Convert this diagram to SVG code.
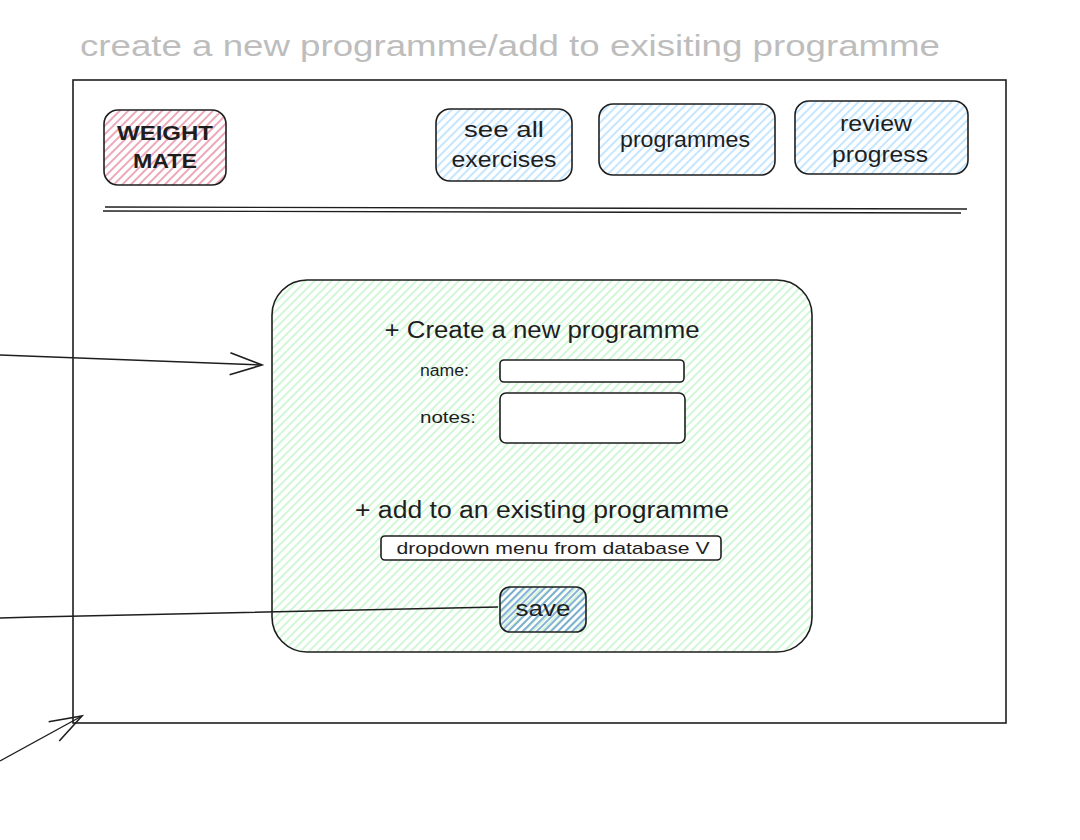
<svg xmlns="http://www.w3.org/2000/svg" width="1080" height="840" viewBox="0 0 1080 840">
<defs>
<pattern id="hPink" patternUnits="userSpaceOnUse" width="6" height="6" patternTransform="rotate(45)"><line x1="1" y1="0" x2="1" y2="6" stroke="#e07a96" stroke-width="1.3"/></pattern>
<pattern id="hBlue" patternUnits="userSpaceOnUse" width="6" height="6" patternTransform="rotate(45)"><line x1="1" y1="0" x2="1" y2="6" stroke="#a5d8ff" stroke-width="1.3"/></pattern>
<pattern id="hGreen" patternUnits="userSpaceOnUse" width="6" height="6" patternTransform="rotate(45)"><line x1="1" y1="0" x2="1" y2="6" stroke="#b2f2bb" stroke-width="1.2"/></pattern>
<pattern id="hSave" patternUnits="userSpaceOnUse" width="5" height="5" patternTransform="rotate(45)"><line x1="1" y1="0" x2="1" y2="5" stroke="#4a86c5" stroke-width="1.3"/></pattern>
<marker id="openArrow" markerWidth="40" markerHeight="30" refX="36" refY="15" orient="auto" markerUnits="userSpaceOnUse"><path d="M4 4 L36 15 L4 26" fill="none" stroke="#1e1e1e" stroke-width="1.6"/></marker>
</defs>
<style>
.box{stroke:#1e1e1e;stroke-width:1.6;}
.t{font-family:"Liberation Sans","DejaVu Sans",sans-serif;fill:#1e1e1e;text-anchor:middle;}
.lbl{font-family:"Liberation Sans","DejaVu Sans",sans-serif;fill:#1e1e1e;}
.conn{fill:none;stroke:#1e1e1e;stroke-width:1.4;}
</style>
<rect width="1080" height="840" fill="#ffffff"/>

<g id="title">
<text x="80" y="56" class="lbl" font-size="30" style="fill:#bdbdbd" textLength="860" lengthAdjust="spacingAndGlyphs">create a new programme/add to exisiting programme</text>
</g>

<g id="frame">
<rect x="73" y="80" width="933" height="643" fill="none" class="box"/>
</g>

<g id="logo">
<rect x="104" y="110" width="122" height="75" rx="14" fill="url(#hPink)" class="box"/>
<text x="165" y="140" class="t" font-size="20" font-weight="bold" textLength="96" lengthAdjust="spacingAndGlyphs">WEIGHT</text>
<text x="165" y="168" class="t" font-size="20" font-weight="bold" textLength="64" lengthAdjust="spacingAndGlyphs">MATE</text>
</g>

<g id="nav-exercises">
<rect x="436" y="109" width="136" height="72" rx="14" fill="url(#hBlue)" class="box"/>
<text x="504" y="137" class="t" font-size="22" textLength="80" lengthAdjust="spacingAndGlyphs">see all</text>
<text x="504" y="167" class="t" font-size="22" textLength="105" lengthAdjust="spacingAndGlyphs">exercises</text>
</g>

<g id="nav-programmes">
<rect x="599" y="104" width="176" height="71" rx="14" fill="url(#hBlue)" class="box"/>
<text x="685" y="147" class="t" font-size="22" textLength="130" lengthAdjust="spacingAndGlyphs">programmes</text>
</g>

<g id="nav-review">
<rect x="795" y="101" width="173" height="73" rx="14" fill="url(#hBlue)" class="box"/>
<text x="876" y="131" class="t" font-size="22" textLength="72" lengthAdjust="spacingAndGlyphs">review</text>
<text x="880" y="162" class="t" font-size="22" textLength="96" lengthAdjust="spacingAndGlyphs">progress</text>
</g>

<g id="divider">
<path d="M105 207 L967 209" class="conn" stroke-width="1.2"/>
<path d="M103 211 L961 213" class="conn" stroke-width="1.2"/>
</g>

<g id="panel">
<rect x="272" y="280" width="540" height="372" rx="35" fill="url(#hGreen)" class="box"/>
<text x="542" y="338" class="t" font-size="23" textLength="315" lengthAdjust="spacingAndGlyphs">+ Create a new programme</text>
<text x="420" y="376" class="lbl" font-size="16" textLength="49" lengthAdjust="spacingAndGlyphs">name:</text>
<rect x="500" y="360" width="184" height="22" rx="4" fill="#ffffff" class="box"/>
<text x="420" y="423" class="lbl" font-size="16" textLength="56" lengthAdjust="spacingAndGlyphs">notes:</text>
<rect x="500" y="393" width="185" height="50" rx="6" fill="#ffffff" class="box"/>
<text x="542" y="518" class="t" font-size="23" textLength="374" lengthAdjust="spacingAndGlyphs">+ add to an existing programme</text>
</g>

<g id="dropdown">
<rect x="381" y="536" width="340" height="24" rx="4" fill="#ffffff" class="box"/>
<text x="553" y="554" class="t" font-size="17" textLength="313" lengthAdjust="spacingAndGlyphs">dropdown menu from database V</text>
</g>

<g id="save">
<rect x="500" y="587" width="86" height="45" rx="10" fill="url(#hSave)" class="box"/>
<text x="543" y="616" class="t" font-size="22" textLength="55" lengthAdjust="spacingAndGlyphs">save</text>
</g>

<g id="connectors">
<path d="M0 355 L262 365" class="conn" marker-end="url(#openArrow)"/>
<path d="M0 618 L35 617 L498 607" class="conn"/>
<path d="M0 761 L82 716" class="conn" marker-end="url(#openArrow)"/>
</g>
</svg>
